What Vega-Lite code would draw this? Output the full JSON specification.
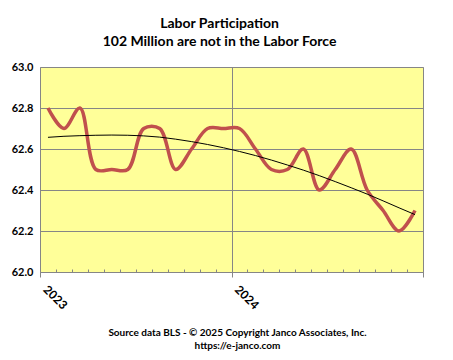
{
  "$schema": "https://vega.github.io/schema/vega-lite/v6.json",
  "width": 383,
  "height": 205,
  "autosize": "none",
  "padding": {"left": 40, "top": 67, "right": 30, "bottom": 88},
  "background": "#FFFFFF",
  "title": {
    "text": ["Labor Participation", "102  Million are not in the Labor Force"],
    "font": "Lato",
    "fontSize": 14,
    "fontWeight": "bold",
    "color": "#000000",
    "lineHeight": 18,
    "anchor": "middle",
    "dx": -12,
    "offset": 12
  },
  "config": {
    "view": {"fill": "#FFFF99", "stroke": "#868686", "strokeWidth": 1},
    "axis": {"labelFont": "Lato", "titleFont": "Lato"}
  },
  "data": {
    "values": [
      {"t": 1, "rate": 62.8, "trend": 62.657},
      {"t": 2, "rate": 62.7, "trend": 62.662},
      {"t": 3, "rate": 62.8, "trend": 62.665},
      {"t": 4, "rate": 62.5, "trend": 62.667},
      {"t": 5, "rate": 62.5, "trend": 62.668},
      {"t": 6, "rate": 62.5, "trend": 62.667},
      {"t": 7, "rate": 62.7, "trend": 62.664},
      {"t": 8, "rate": 62.7, "trend": 62.658},
      {"t": 9, "rate": 62.5, "trend": 62.648},
      {"t": 10, "rate": 62.6, "trend": 62.636},
      {"t": 11, "rate": 62.7, "trend": 62.622},
      {"t": 12, "rate": 62.7, "trend": 62.606},
      {"t": 13, "rate": 62.7, "trend": 62.588},
      {"t": 14, "rate": 62.6, "trend": 62.568},
      {"t": 15, "rate": 62.5, "trend": 62.546},
      {"t": 16, "rate": 62.5, "trend": 62.522},
      {"t": 17, "rate": 62.6, "trend": 62.497},
      {"t": 18, "rate": 62.4, "trend": 62.47},
      {"t": 19, "rate": 62.5, "trend": 62.441},
      {"t": 20, "rate": 62.6, "trend": 62.411},
      {"t": 21, "rate": 62.4, "trend": 62.38},
      {"t": 22, "rate": 62.3, "trend": 62.347},
      {"t": 23, "rate": 62.2, "trend": 62.313},
      {"t": 24, "rate": 62.3, "trend": 62.28}
    ]
  },
  "encoding": {
    "x": {
      "field": "t",
      "type": "quantitative",
      "scale": {"domain": [0.5, 24.5], "nice": false, "zero": false},
      "axis": {
        "values": [0.5, 1.5, 2.5, 3.5, 4.5, 5.5, 6.5, 7.5, 8.5, 9.5, 10.5, 11.5, 12.5, 13.5, 14.5, 15.5, 16.5, 17.5, 18.5, 19.5, 20.5, 21.5, 22.5, 23.5, 24.5],
        "labelExpr": "datum.value == 0.5 ? '2023' : (datum.value == 12.5 ? '2024' : '')",
        "labelAngle": 45,
        "labelAlign": "left",
        "labelBaseline": "bottom",
        "labelFontSize": 12,
        "labelFontWeight": "bold",
        "labelColor": "#000000",
        "labelPadding": 15,
        "labelDx": 3,
        "labelOverlap": false,
        "labelBound": false,
        "labelFlush": false,
        "domainColor": "#868686",
        "tickColor": "#868686",
        "tickSize": {"condition": {"test": "datum.value % 12 == 0.5", "value": 5}, "value": -3},
        "grid": true,
        "gridColor": "#868686",
        "gridOpacity": {"condition": {"test": "datum.value == 12.5", "value": 1}, "value": 0},
        "title": ["Source data BLS - © 2025 Copyright Janco Associates, Inc.", "https://e-janco.com"],
        "titleFont": "Lato",
        "titleFontSize": 10,
        "titleFontWeight": "bold",
        "titleColor": "#000000",
        "titleLineHeight": 13,
        "titlePadding": 17,
        "titleX": 197,
        "titleAnchor": "middle"
      }
    },
    "y": {
      "type": "quantitative",
      "scale": {"domain": [62, 63], "nice": false, "zero": false},
      "axis": {
        "values": [62, 62.2, 62.4, 62.6, 62.8, 63],
        "format": ".1f",
        "labelFontSize": 11,
        "labelFontWeight": "bold",
        "labelColor": "#000000",
        "labelPadding": 7,
        "ticks": false,
        "domain": false,
        "grid": true,
        "gridColor": "#868686",
        "gridOpacity": 1,
        "title": null
      }
    }
  },
  "layer": [
    {
      "mark": {"type": "line", "interpolate": "catmull-rom", "color": "#C0504D", "strokeWidth": 3.5},
      "encoding": {"y": {"field": "rate", "type": "quantitative"}}
    },
    {
      "mark": {"type": "line", "color": "#000000", "strokeWidth": 1},
      "encoding": {"y": {"field": "trend", "type": "quantitative"}}
    }
  ]
}
